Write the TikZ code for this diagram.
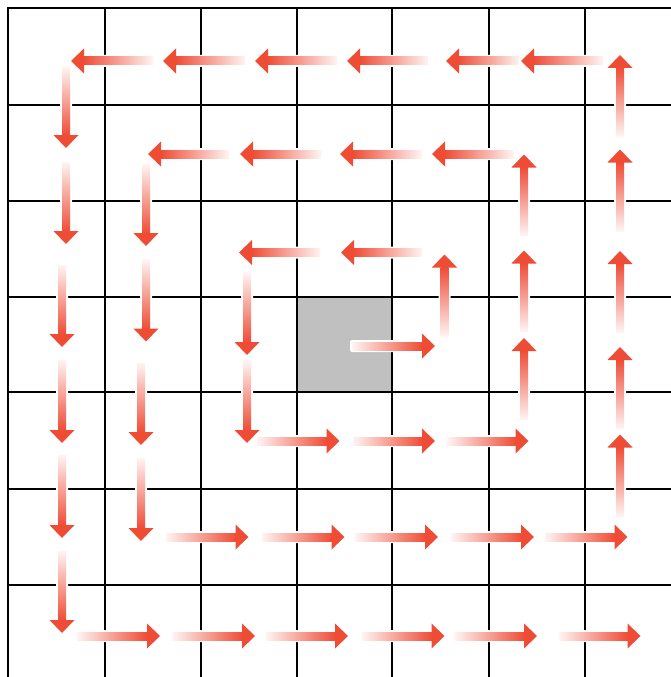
\documentclass[tikz,border=0pt]{standalone}
\usepackage{tikz}
\definecolor{ahead}{RGB}{239,76,54}
\colorlet{atail}{ahead!6!white}
\definecolor{cellgrey}{RGB}{192,192,192}
\tikzset{
  halo/.style={fill=white,draw=white,line width=4pt,line join=round},
  gridline/.style={draw=black,line width=2.8pt},
}
% left-pointing: y, tail x, tip x
\newcommand{\arrL}[3]{%
 \path[halo] (#3,#1) -- ({#3+13},{#1-12.5}) -- ({#3+13},{#1-4}) -- (#2,{#1-4}) -- (#2,{#1+4}) -- ({#3+13},{#1+4}) -- ({#3+13},{#1+12.5}) -- cycle;
 \shade[left color=ahead,right color=atail] ({#3+12.5},{#1-4}) rectangle (#2,{#1+4});
 \fill[ahead] (#3,#1) -- ({#3+13},{#1-12.5}) -- ({#3+13},{#1+12.5}) -- cycle;}
% right-pointing: y, tail x, tip x
\newcommand{\arrR}[3]{%
 \path[halo] (#3,#1) -- ({#3-13},{#1-12.5}) -- ({#3-13},{#1-4}) -- (#2,{#1-4}) -- (#2,{#1+4}) -- ({#3-13},{#1+4}) -- ({#3-13},{#1+12.5}) -- cycle;
 \shade[left color=atail,right color=ahead] (#2,{#1-4}) rectangle ({#3-12.5},{#1+4});
 \fill[ahead] (#3,#1) -- ({#3-13},{#1-12.5}) -- ({#3-13},{#1+12.5}) -- cycle;}
% up-pointing: x, tail y, tip y
\newcommand{\arrU}[3]{%
 \path[halo] (#1,#3) -- ({#1-12.5},{#3+13}) -- ({#1-4},{#3+13}) -- ({#1-4},#2) -- ({#1+4},#2) -- ({#1+4},{#3+13}) -- ({#1+12.5},{#3+13}) -- cycle;
 \shade[top color=ahead,bottom color=atail] ({#1-4},{#3+12.5}) rectangle ({#1+4},#2);
 \fill[ahead] (#1,#3) -- ({#1-12.5},{#3+13}) -- ({#1+12.5},{#3+13}) -- cycle;}
% down-pointing: x, tail y, tip y
\newcommand{\arrD}[3]{%
 \path[halo] (#1,#3) -- ({#1-12.5},{#3-13}) -- ({#1-4},{#3-13}) -- ({#1-4},#2) -- ({#1+4},#2) -- ({#1+4},{#3-13}) -- ({#1+12.5},{#3-13}) -- cycle;
 \shade[top color=atail,bottom color=ahead] ({#1-4},#2) rectangle ({#1+4},{#3-12.5});
 \fill[ahead] (#1,#3) -- ({#1-12.5},{#3-13}) -- ({#1+12.5},{#3-13}) -- cycle;}
\begin{document}
\begin{tikzpicture}[x=1pt,y=-1pt]
\useasboundingbox (0,0) rectangle (671,677);
\fill[white] (0,0) rectangle (671,677);
% centre cell
\fill[cellgrey] (297,297) rectangle (392,393);
% grid
\draw[gridline] (8,677) -- (8,8) -- (671,8);
\foreach \v in {105,201,297,392,489,585}{
  \draw[gridline] (\v,8) -- (\v,677);
  \draw[gridline] (6.6,\v) -- (671,\v);
}
% ---- arrows, drawn from the outer end of the spiral to the centre ----
% row 7
\arrR{636}{559}{640.5}
\arrR{636}{454.5}{537}
\arrR{636}{362}{444.5}
\arrR{636}{266}{348}
\arrR{636}{172.5}{255}
\arrR{636}{77}{160}
% column 1
\arrD{62}{551}{633}
\arrD{62}{455}{538}
\arrD{62}{360}{443}
\arrD{62}{265}{347}
\arrD{66}{162}{244}
\arrD{66}{67}{148}
% row 1
\arrL{61}{153}{71}
\arrL{61}{245}{163}
\arrL{61}{337}{255}
\arrL{61}{428}{347}
\arrL{61}{519}{446}
\arrL{61}{603}{521}
% column 7
\arrU{620}{136}{55}
\arrU{620}{231}{149.5}
\arrU{620}{332}{251}
\arrU{620}{428.5}{347}
\arrU{620}{516}{434.5}
% row 6
\arrR{537}{545}{627.5}
\arrR{537}{451}{534}
\arrR{537}{355}{438}
\arrR{537}{262}{344.5}
\arrR{537}{166}{248.5}
% column 2
\arrD{141}{458}{541}
\arrD{141}{363}{445}
\arrD{146}{259.5}{341.5}
\arrD{146}{164}{246}
% row 2
\arrL{154}{229}{148}
\arrL{154}{321}{240}
\arrL{154}{421.5}{340}
\arrL{154}{513.5}{432}
% column 5
\arrU{524}{235.5}{154.5}
\arrU{524}{331.5}{250.5}
\arrU{524}{419.5}{338}
% row 5
\arrR{441}{447}{528.5}
\arrR{441}{353}{435}
\arrR{441}{257}{339.5}
% column 3
\arrD{247}{360.5}{443}
\arrD{247}{272.5}{355}
% row 3
\arrL{252.5}{320}{239}
\arrL{252.5}{422}{341}
% column 4
\arrU{444.5}{336}{254.5}
% centre
\arrR{346}{352}{435}
\end{tikzpicture}
\end{document}
